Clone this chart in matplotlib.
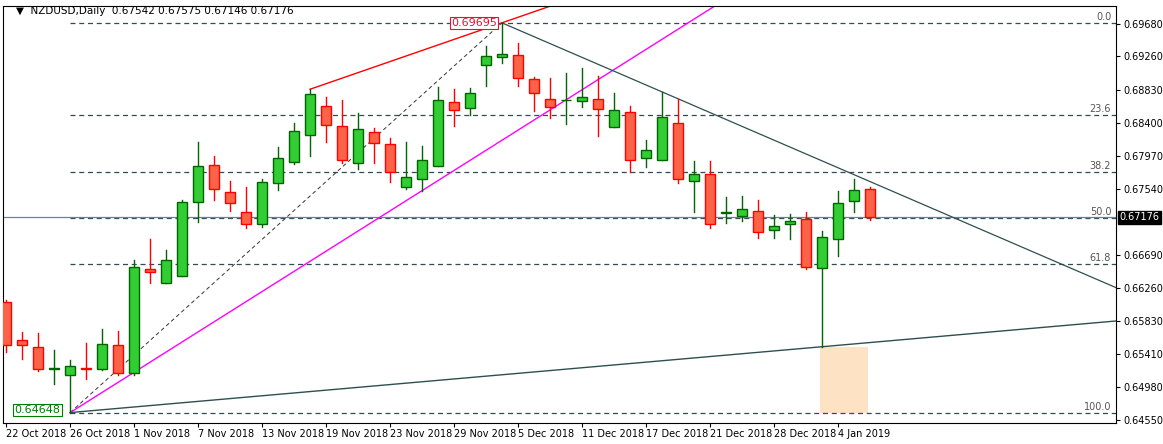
import numpy as np
import pandas as pd
import matplotlib
matplotlib.use('Agg')
import matplotlib.pyplot as plt
from matplotlib.patches import Rectangle

# daily bars, 22 Oct 2018 .. 8 Jan 2019 (no bars on 25 Dec, 1 Jan)
opens = [0.66077, 0.65585, 0.65495, 0.65216, 0.65132, 0.65222, 0.65210, 0.65521, 0.65158, 0.66504,
         0.66323, 0.66414, 0.67372, 0.67851, 0.67501, 0.67242, 0.67087, 0.67618, 0.67890, 0.68239,
         0.68615, 0.68356, 0.67877, 0.68278, 0.68123, 0.67566, 0.67670, 0.67838, 0.68666, 0.68589,
         0.69145, 0.69253, 0.69275, 0.68964, 0.68705, 0.68693, 0.68679, 0.68705, 0.68343, 0.68537,
         0.67941, 0.67915, 0.68394, 0.67644, 0.67734, 0.67235, 0.67191, 0.67255, 0.67009, 0.67087,
         0.67156, 0.66517, 0.66901, 0.67385, 0.67542]
highs = [0.66107, 0.65693, 0.65672, 0.65452, 0.65331, 0.65555, 0.65732, 0.65706, 0.66625, 0.66897,
         0.66755, 0.67402, 0.68153, 0.67976, 0.67648, 0.67570, 0.67670, 0.68092, 0.68394, 0.68835,
         0.68735, 0.68696, 0.68528, 0.68338, 0.68205, 0.68153, 0.68101, 0.68865, 0.68839, 0.68852,
         0.69396, 0.69695, 0.69430, 0.68990, 0.68981, 0.69050, 0.69111, 0.69007, 0.68787, 0.68619,
         0.68179, 0.68796, 0.68705, 0.67907, 0.67907, 0.67437, 0.67454, 0.67402, 0.67208, 0.67225,
         0.67247, 0.67005, 0.67519, 0.67670, 0.67575]
lows = [0.65430, 0.65339, 0.65180, 0.65016, 0.64648, 0.65089, 0.65193, 0.65132, 0.65132, 0.66332,
        0.66323, 0.66414, 0.67113, 0.67402, 0.67264, 0.67044, 0.67057, 0.67531, 0.67864, 0.67976,
        0.68157, 0.67877, 0.67808, 0.67877, 0.67639, 0.67540, 0.67523, 0.67838, 0.68364, 0.68502,
        0.68882, 0.69171, 0.68882, 0.68558, 0.68459, 0.68390, 0.68610, 0.68230, 0.68343, 0.67760,
        0.67833, 0.67915, 0.67626, 0.67242, 0.67040, 0.67100, 0.67134, 0.66914, 0.66914, 0.66901,
        0.66513, 0.65503, 0.66681, 0.67251, 0.67146]
closes = [0.65521, 0.65521, 0.65210, 0.65222, 0.65249, 0.65216, 0.65534, 0.65158, 0.66530, 0.66466,
          0.66621, 0.67372, 0.67842, 0.67540, 0.67359, 0.67087, 0.67631, 0.67941, 0.68291, 0.68770,
          0.68369, 0.67915, 0.68317, 0.68136, 0.67760, 0.67695, 0.67915, 0.68692, 0.68563, 0.68783,
          0.69262, 0.69288, 0.68977, 0.68783, 0.68602, 0.68699, 0.68731, 0.68576, 0.68563, 0.67924,
          0.68045, 0.68472, 0.67670, 0.67734, 0.67087, 0.67241, 0.67290, 0.66983, 0.67061, 0.67130,
          0.66539, 0.66919, 0.67359, 0.67527, 0.67176]

dates = [d for d in pd.bdate_range('2018-10-22', '2019-01-08')
         if d.strftime('%m-%d') not in ('12-25', '01-01')]

swing_high = 0.69695
swing_low = 0.64648
fib_levels = [0.0, 23.6, 38.2, 50.0, 61.8, 100.0]
# 0.67110 sits under the current-price tag, so it is left out
price_ticks = [0.69680, 0.69260, 0.68830, 0.68400, 0.67970, 0.67540,
               0.66690, 0.66260, 0.65830, 0.65410, 0.64980, 0.64550]

GREEN_FILL = '#32cd32'
GREEN_EDGE = '#006400'
RED_FILL = '#ff6347'
RED_EDGE = '#ff0000'
DARK = '#2f4f4f'

fig = plt.figure(figsize=(11.63, 4.44), dpi=100)
ax = fig.add_axes([3 / 1163, 21 / 444, 1113 / 1163, 417 / 444])
x_lo, x_hi = -0.2, 69.4
y_lo, y_hi = 0.64513, 0.69913
ax.set_xlim(x_lo, x_hi)
ax.set_ylim(y_lo, y_hi)

n = len(opens)
idx = np.arange(n)
i_low = 4
i_high = 31

# fibonacci levels
for lv in fib_levels:
	p = swing_high - lv / 100.0 * (swing_high - swing_low)
	ax.plot([i_low, x_hi], [p, p], color=DARK, lw=0.9, ls=(0, (4, 3)), zorder=1)
	ax.text(x_hi - 0.3, p + 0.00012, '%.1f' % lv, ha='right', va='bottom',
			fontsize=7, color='#555555', zorder=5)

# current price line
ax.axhline(closes[-1], color='#708090', lw=0.9, zorder=1)

# channel / trend lines
ax.plot([i_low, i_high], [swing_low, swing_high], color='#333333', lw=0.7, ls=(0, (4, 3)), zorder=1)
red_slope = (swing_high - highs[19]) / (i_high - 19)
ax.plot([19, 40], [highs[19], highs[19] + red_slope * 21], color='red', lw=1.0, zorder=2)
mag_slope = 0.001306
ax.plot([i_low, 50], [swing_low, swing_low + mag_slope * (50 - i_low)], color='magenta', lw=1.0, zorder=2)
down_slope = -0.000893
ax.plot([i_high, x_hi], [swing_high, swing_high + down_slope * (x_hi - i_high)], color=DARK, lw=0.9, zorder=2)
up_slope = (0.65834 - swing_low) / (x_hi - i_low)
ax.plot([i_low, x_hi], [swing_low, swing_low + up_slope * (x_hi - i_low)], color=DARK, lw=1.0, zorder=2)

# shaded zone below the support line
ax.add_patch(Rectangle((50.9, swing_low), 3.0, swing_low + up_slope * (51 - i_low) - swing_low,
					   facecolor='#fde2c3', edgecolor='none', zorder=0))

# candles
w = 0.64
for i in idx:
	o, h, l, c = opens[i], highs[i], lows[i], closes[i]
	up = c >= o
	fc = GREEN_FILL if up else RED_FILL
	ec = GREEN_EDGE if up else RED_EDGE
	ax.plot([i, i], [l, h], color=ec, lw=1.0, zorder=3)
	body = max(abs(c - o), 0.00003)
	ax.add_patch(Rectangle((i - w / 2, min(o, c)), w, body, facecolor=fc, edgecolor=ec, lw=1.0, zorder=4))

# price tags at swing points
ax.text(i_high - 0.3, swing_high, '%.5f' % swing_high, ha='right', va='center', fontsize=8, color='#dc143c',
		bbox=dict(boxstyle='square,pad=0.1', fc='white', ec='#dc143c', lw=0.8), zorder=6)
ax.text(i_low - 0.6, swing_low + 0.00035, '%.5f' % swing_low, ha='right', va='center', fontsize=8, color='green',
		bbox=dict(boxstyle='square,pad=0.1', fc='white', ec='green', lw=0.8), zorder=6)

ax.text(0.6, 0.6985, '\u25bc  NZDUSD,Daily  %.5f %.5f %.5f %.5f' % (opens[-1], highs[-1], lows[-1], closes[-1]),
		fontsize=7.5, va='center', ha='left', color='black', zorder=6)

# axes styling
ax.yaxis.tick_right()
ax.set_yticks(price_ticks)
ax.set_yticklabels(['%.5f' % t for t in price_ticks], fontsize=7)
ax.tick_params(axis='y', length=3, pad=2)
ax.text(x_hi + 0.2, closes[-1], '%.5f' % closes[-1], ha='left', va='center', fontsize=7, color='white',
		bbox=dict(boxstyle='square,pad=0.15', fc='black', ec='black'), zorder=7, clip_on=False)

xt = list(range(0, n, 4))
ax.set_xticks(xt)
ax.set_xticklabels(['%d %s' % (dates[i].day, dates[i].strftime('%b %Y')) for i in xt], fontsize=7, ha='left')
ax.tick_params(axis='x', length=3, pad=1)
for s in ax.spines.values():
	s.set_linewidth(0.8)

fig.savefig('out.png', dpi=100)
